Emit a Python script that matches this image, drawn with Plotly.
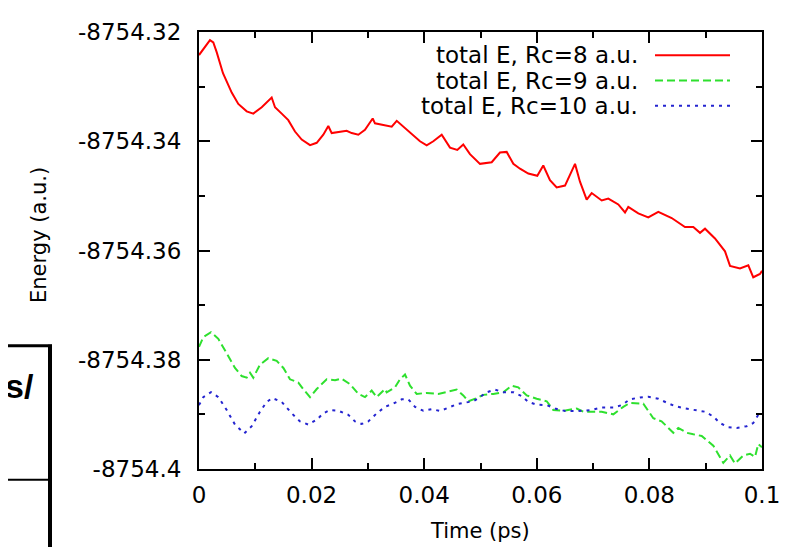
import plotly.graph_objects as go

# ---------------- data ----------------
t_rc8 = [0, 0.00195, 0.00254, 0.00314, 0.00426, 0.00581, 0.00698, 0.00847, 0.00965, 0.01114,
         0.01291, 0.0135, 0.01469, 0.01586, 0.01705, 0.01824, 0.01972, 0.02091, 0.02208, 0.02297,
         0.02357, 0.02593, 0.02623, 0.02712, 0.0283, 0.02948, 0.03085, 0.03126, 0.03304, 0.03423,
         0.03512, 0.03659, 0.03806, 0.03925, 0.04044, 0.04162, 0.04311, 0.04458, 0.04588, 0.04694,
         0.04813, 0.04902, 0.04991, 0.05199, 0.05346, 0.05465, 0.05583, 0.05702, 0.05849, 0.06009,
         0.06115, 0.06234, 0.06353, 0.06501, 0.0659, 0.06679, 0.06767, 0.06886, 0.06975, 0.07153,
         0.0727, 0.07448, 0.07567, 0.07625, 0.07803, 0.0798, 0.08158, 0.08396, 0.08632, 0.0878,
         0.08899, 0.08988, 0.09165, 0.09343, 0.09432, 0.09609, 0.09757, 0.09845, 0.09964, 0.1]
e_rc8 = [-8754.32422, -8754.32149, -8754.3219, -8754.32368, -8754.32754, -8754.3311, -8754.33316,
         -8754.33453, -8754.33494, -8754.33377, -8754.33199, -8754.33377, -8754.33494, -8754.33614,
         -8754.33822, -8754.33969, -8754.34071, -8754.34028, -8754.3388, -8754.3372, -8754.3385,
         -8754.33822, -8754.33809, -8754.3385, -8754.3388, -8754.33792, -8754.33583, -8754.33672,
         -8754.33703, -8754.33733, -8754.33626, -8754.33761, -8754.3388, -8754.34, -8754.34076,
         -8754.34, -8754.3388, -8754.34117, -8754.3416, -8754.34058, -8754.34236, -8754.34325,
         -8754.34414, -8754.34384, -8754.34206, -8754.34195, -8754.34414, -8754.34503, -8754.34592,
         -8754.34633, -8754.34444, -8754.34711, -8754.34846, -8754.34811, -8754.34622, -8754.34414,
         -8754.3474, -8754.35067, -8754.34948, -8754.35085, -8754.35049, -8754.35156, -8754.35304,
         -8754.35202, -8754.35321, -8754.35393, -8754.35291, -8754.35405, -8754.35571, -8754.35571,
         -8754.35677, -8754.35601, -8754.35779, -8754.36015, -8754.36282, -8754.3633, -8754.3627,
         -8754.3649, -8754.3643, -8754.36371, -8754.3636]

t_rc9 = [0, 0.00076, 0.00213, 0.00343, 0.00492, 0.00639, 0.00758, 0.00847, 0.00906, 0.00964,
         0.01083, 0.01231, 0.0138, 0.01499, 0.01616, 0.01764, 0.0185, 0.01972, 0.02091, 0.02268,
         0.02416, 0.02535, 0.02682, 0.0283, 0.02948, 0.03067, 0.03156, 0.03304, 0.03334, 0.03481,
         0.0357, 0.03659, 0.03748, 0.03867, 0.04044, 0.0425, 0.04428, 0.04577, 0.04694, 0.04783,
         0.04933, 0.0505, 0.05227, 0.05405, 0.05554, 0.05671, 0.05821, 0.05998, 0.06176, 0.06293,
         0.06471, 0.06709, 0.06826, 0.07003, 0.07153, 0.07359, 0.07536, 0.07655, 0.07892, 0.08069,
         0.08216, 0.08306, 0.08425, 0.08513, 0.08663, 0.0878, 0.08929, 0.09135, 0.09224, 0.09313,
         0.09432, 0.0952, 0.09668, 0.09787, 0.09876, 0.09934, 0.1]
e_rc9 = [-8754.37764, -8754.37586, -8754.37497, -8754.37616, -8754.37883, -8754.3815, -8754.38298,
         -8754.38328, -8754.38239, -8754.38328, -8754.38091, -8754.37972, -8754.3802, -8754.3815,
         -8754.38358, -8754.38417, -8754.38536, -8754.38684, -8754.38536, -8754.38358, -8754.38376,
         -8754.38346, -8754.38447, -8754.38625, -8754.38684, -8754.38565, -8754.38684, -8754.38536,
         -8754.38595, -8754.38506, -8754.38358, -8754.38269, -8754.38476, -8754.38625, -8754.38607,
         -8754.38625, -8754.38582, -8754.38547, -8754.38653, -8754.3876, -8754.38702, -8754.38643,
         -8754.38625, -8754.38595, -8754.38476, -8754.38506, -8754.38653, -8754.38714, -8754.3876,
         -8754.3892, -8754.38935, -8754.38892, -8754.38951, -8754.38951, -8754.38951, -8754.38999,
         -8754.38862, -8754.3879, -8754.38803, -8754.3907, -8754.39128, -8754.39217, -8754.39337,
         -8754.39248, -8754.39337, -8754.39365, -8754.39395, -8754.39573, -8754.39721, -8754.39888,
         -8754.39751, -8754.39899, -8754.39751, -8754.39721, -8754.39781, -8754.39543, -8754.39603]

t_rc10 = [0, 0.00076, 0.00213, 0.00343, 0.00492, 0.00639, 0.00805, 0.00936, 0.01083, 0.01202,
          0.01302, 0.01469, 0.01647, 0.01794, 0.01941, 0.02091, 0.02208, 0.02327, 0.02474, 0.02652,
          0.02771, 0.0289, 0.03007, 0.03156, 0.03304, 0.03451, 0.036, 0.03718, 0.03837, 0.03984,
          0.04133, 0.04281, 0.04428, 0.04577, 0.04725, 0.04872, 0.04991, 0.0511, 0.05258, 0.05405,
          0.05583, 0.05732, 0.05849, 0.05998, 0.06176, 0.06323, 0.06501, 0.06737, 0.06975, 0.07153,
          0.07359, 0.07508, 0.07655, 0.07833, 0.0798, 0.08158, 0.08307, 0.08455, 0.08632, 0.0881,
          0.08988, 0.09135, 0.09254, 0.09401, 0.09551, 0.09728, 0.09845, 0.09934, 0.1]
e_rc10 = [-8754.38831, -8754.38684, -8754.38595, -8754.38684, -8754.3892, -8754.39187, -8754.39347,
          -8754.39217, -8754.38951, -8754.38773, -8754.38702, -8754.38773, -8754.38981, -8754.39128,
          -8754.39187, -8754.39098, -8754.38981, -8754.3892, -8754.38933, -8754.39009, -8754.39128,
          -8754.39177, -8754.39128, -8754.38981, -8754.38862, -8754.38803, -8754.38725, -8754.38725,
          -8754.38862, -8754.38933, -8754.38903, -8754.38938, -8754.38879, -8754.38814, -8754.38785,
          -8754.3876, -8754.38684, -8754.38595, -8754.38547, -8754.38595, -8754.38595, -8754.38666,
          -8754.38773, -8754.38821, -8754.38831, -8754.38892, -8754.38938, -8754.38938, -8754.3892,
          -8754.38874, -8754.38874, -8754.38831, -8754.38725, -8754.38689, -8754.38678, -8754.38714,
          -8754.38785, -8754.38849, -8754.38892, -8754.3892, -8754.38951, -8754.3904, -8754.39159,
          -8754.39235, -8754.39248, -8754.39217, -8754.39159, -8754.39009, -8754.38951]

series_names = ["total E, Rc=8 a.u.", "total E, Rc=9 a.u.", "total E, Rc=10 a.u."]

x_tickvals = [0, 0.02, 0.04, 0.06, 0.08, 0.1]
x_ticktext = ["0", "0.02", "0.04", "0.06", "0.08", "0.1"]
y_tickvals = [-8754.4, -8754.38, -8754.36, -8754.34, -8754.32]
y_ticktext = ["-8754.4", "-8754.38", "-8754.36", "-8754.34", "-8754.32"]
x_minor = [0.01, 0.03, 0.05, 0.07, 0.09]
y_minor = [-8754.39, -8754.37, -8754.35, -8754.33]

x_title = "Time (ps)"
y_title = "Energy (a.u.)"

# ---------------- layout geometry (screen pixels) ----------------
W, H = 787, 547
OFF = 8                      # default page margin around the plot div
L, R, T, B = 199, 762, 19, 469   # plot area on screen
FONT = "DejaVu Sans"

def pxx(x):
    return (x - L) / (R - L)

def pxy(y):
    return (B - y) / (B - T)

colors = ["#ff0000", "#2ee02e", "#2424d0"]
dashes = ["solid", "8px,4px", "3px,5px"]

fig = go.Figure()
for t, e, c, d, n in zip([t_rc8, t_rc9, t_rc10], [e_rc8, e_rc9, e_rc10], colors, dashes, series_names):
    fig.add_trace(go.Scatter(x=t, y=e, mode="lines", name=n,
                             line=dict(color=c, width=2, dash=d), showlegend=False))

axis_common = dict(showgrid=False, zeroline=False, showline=True, linecolor="black", linewidth=2,
                   mirror="allticks", ticks="inside", ticklen=11, tickwidth=1.5, tickcolor="black",
                   tickfont=dict(family=FONT, size=23, color="black"))

fig.update_xaxes(range=[0, 0.1], tickmode="array", tickvals=x_tickvals, ticktext=x_ticktext,
                 ticklabelstandoff=4,
                 minor=dict(tickmode="array", tickvals=x_minor, ticks="inside", ticklen=6,
                            tickwidth=1.5, tickcolor="black", showgrid=False),
                 **axis_common)
fig.update_yaxes(range=[-8754.4, -8754.32], tickmode="array", tickvals=y_tickvals, ticktext=y_ticktext,
                 ticklabelstandoff=11,
                 minor=dict(tickmode="array", tickvals=y_minor, ticks="inside", ticklen=6,
                            tickwidth=1.5, tickcolor="black", showgrid=False),
                 **axis_common)

shapes = []
annotations = []

# legend (gnuplot style: text on the left, sample on the right)
leg_rows = [43, 69, 95]
for n, c, d, yy in zip(series_names, colors, dashes, leg_rows):
    annotations.append(dict(xref="paper", yref="paper", x=pxx(640), y=pxy(yy), text=n,
                            showarrow=False, xanchor="right", yanchor="middle",
                            font=dict(family=FONT, size=23, color="black")))
    shapes.append(dict(type="line", xref="paper", yref="paper", x0=pxx(655), x1=pxx(730),
                       y0=pxy(yy), y1=pxy(yy), line=dict(color=c, width=2, dash=d)))

# axis titles
annotations.append(dict(xref="paper", yref="paper", x=pxx(480), y=pxy(533), text=x_title,
                        showarrow=False, xanchor="center", yanchor="middle",
                        font=dict(family=FONT, size=21, color="black")))
annotations.append(dict(xref="paper", yref="paper", x=pxx(39), y=pxy(228), text=y_title,
                        showarrow=False, xanchor="center", yanchor="middle", textangle=-90,
                        font=dict(family=FONT, size=21, color="black")))

# slide artifact on the left
shapes.append(dict(type="line", xref="paper", yref="paper", x0=pxx(50), x1=pxx(50),
                   y0=pxy(341), y1=pxy(560), line=dict(color="black", width=4)))
shapes.append(dict(type="line", xref="paper", yref="paper", x0=pxx(-10), x1=pxx(52),
                   y0=pxy(342), y1=pxy(342), line=dict(color="black", width=3)))
shapes.append(dict(type="line", xref="paper", yref="paper", x0=pxx(-10), x1=pxx(50),
                   y0=pxy(480), y1=pxy(480), line=dict(color="black", width=2)))
annotations.append(dict(xref="paper", yref="paper", x=pxx(36), y=pxy(384), text="<b>s/</b>",
                        showarrow=False, xanchor="right", yanchor="middle",
                        font=dict(family="Liberation Sans", size=34, color="black")))

fig.update_layout(width=W, height=H,
                  margin=dict(l=L - OFF, r=W - R + OFF, t=T - OFF, b=H - B + OFF),
                  paper_bgcolor="white", plot_bgcolor="white",
                  shapes=shapes, annotations=annotations, showlegend=False)

fig.write_html("out.html")
